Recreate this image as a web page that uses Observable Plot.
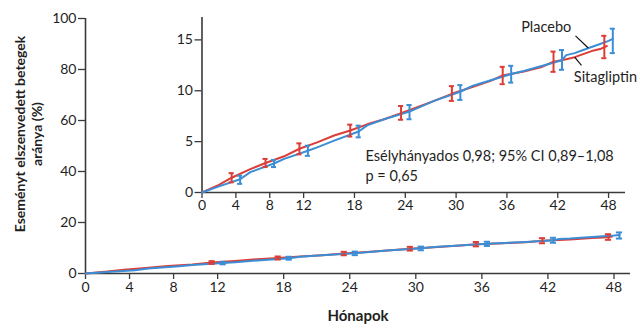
<!DOCTYPE html>
<html>
<head>
<meta charset="utf-8">
<script src="https://cdn.jsdelivr.net/npm/d3@7"></script>
<script src="https://cdn.jsdelivr.net/npm/@observablehq/plot@0.6"></script>
<style>
  html, body { margin: 0; padding: 0; background: white; }
  #wrap { position: relative; width: 640px; height: 329px; }
  #wrap svg { position: absolute; left: 0; top: 0; }
</style>
</head>
<body>
<div id="wrap"></div>
<script>
// ---- Data (cumulative incidence, %) ----
const sitaMonths = [0, 2, 3.5, 5.7, 7.5, 9.7, 11.5, 13.6, 15.6, 17.5, 19.5, 21.5, 23.5, 25.5, 27.4, 29.5, 32, 34, 35.5, 38, 40, 41.5, 43, 44, 45, 46, 47, 47.8];
const sitaValues = [0, 0.75, 1.45, 2.3, 2.9, 3.56, 4.3, 4.93, 5.6, 6.1, 6.7, 7.2, 7.8, 8.4, 9.0, 9.7, 10.4, 10.95, 11.5, 11.9, 12.3, 12.85, 13.1, 13.3, 13.6, 13.9, 14.1, 14.4];

const placMonths = [0, 2, 4.5, 5.7, 8.5, 9.7, 12.5, 13.6, 15.6, 18.5, 19.5, 21.5, 24.5, 27.4, 30.5, 32, 34, 36.5, 38, 40, 42.5, 43, 44, 45, 46, 47, 48, 48.5];
const placValues = [0, 0.6, 1.3, 2.0, 2.85, 3.3, 4.1, 4.44, 5.1, 6.0, 6.6, 7.2, 7.95, 9.0, 9.9, 10.5, 11.0, 11.65, 11.95, 12.4, 13.0, 13.5, 13.7, 14.0, 14.3, 14.6, 14.9, 15.1];

// Error bars (95% CI)
const sitaBarMonths = [3.5, 7.5, 11.5, 17.5, 23.5, 29.5, 35.5, 41.5, 47.5];
const sitaBarLow    = [1.0, 2.5, 3.75, 5.5, 7.15, 9.0, 10.65, 11.86, 13.2];
const sitaBarHigh   = [1.9, 3.3, 4.83, 6.67, 8.5, 10.45, 12.35, 13.85, 15.4];

const placBarMonths = [4.5, 8.5, 12.5, 18.5, 24.5, 30.5, 36.5, 42.5, 48.5];
const placBarLow    = [0.85, 2.5, 3.6, 5.42, 7.2, 9.1, 10.8, 12.06, 13.7];
const placBarHigh   = [1.65, 3.2, 4.6, 6.57, 8.6, 10.55, 12.45, 14.0, 16.1];

// Ticks
const mainXTicks = [0, 4, 8, 12, 18, 24, 30, 36, 42, 48];
const mainYTicks = [0, 20, 40, 60, 80, 100];
const insetXTicks = [0, 4, 8, 12, 18, 24, 30, 36, 42, 48];
const insetYTicks = [0, 5, 10, 15];

// Texts
const yLabel1 = "Eseményt elszenvedett betegek";
const yLabel2 = "aránya (%)";
const xLabel = "Hónapok";
const statLine1 = "Esélyhányados 0,98; 95% CI 0,89–1,08";
const statLine2 = "p = 0,65";
const labelPlacebo = "Placebo";
const labelSita = "Sitagliptin";

// ---- Build tables ----
const RED = "#dc3d36", BLUE = "#3b8ed6", AX = "#3a3a3a", TXT = "#1f1f1f";
const sita = sitaMonths.map((m, i) => ({m, v: sitaValues[i]}));
const plac = placMonths.map((m, i) => ({m, v: placValues[i]}));
const sitaBars = sitaBarMonths.map((m, i) => ({m, lo: sitaBarLow[i], hi: sitaBarHigh[i]}));
const placBars = placBarMonths.map((m, i) => ({m, lo: placBarLow[i], hi: placBarHigh[i]}));

function barMarks(bars, color, capHalf) {
  return [
    Plot.ruleX(bars, {x: "m", y1: "lo", y2: "hi", stroke: color, strokeWidth: 2}),
    Plot.ruleY(bars, {y: "lo", x1: d => d.m - capHalf, x2: d => d.m + capHalf, stroke: color, strokeWidth: 2}),
    Plot.ruleY(bars, {y: "hi", x1: d => d.m - capHalf, x2: d => d.m + capHalf, stroke: color, strokeWidth: 2})
  ];
}

const font = "Lato, 'Open Sans', sans-serif";

// ---- Main chart ----
const mainBarsS = sitaBars.filter(d => d.m > 10);
const mainBarsP = placBars.filter(d => d.m > 10);
const main = Plot.plot({
  width: 640, height: 329,
  marginLeft: 85, marginRight: 10, marginTop: 18, marginBottom: 56,
  style: {fontFamily: font, fontSize: "14px", color: TXT, background: "white"},
  x: {domain: [0, 49.5]},
  y: {domain: [0, 100]},
  marks: [
    Plot.axisX({ticks: mainXTicks, tickSize: 6, tickPadding: 3, label: null, stroke: AX, strokeWidth: 1.3}),
    Plot.axisY({ticks: mainYTicks, tickSize: 7, tickPadding: 2, label: null, stroke: AX, strokeWidth: 1.3}),
    Plot.ruleX([0], {stroke: AX, strokeWidth: 1.6}),
    Plot.ruleY([0], {stroke: AX, strokeWidth: 1.6}),
    Plot.line(sita, {x: "m", y: "v", stroke: RED, strokeWidth: 2}),
    Plot.line(plac, {x: "m", y: "v", stroke: BLUE, strokeWidth: 2}),
    ...barMarks(mainBarsS, RED, 0.28),
    ...barMarks(mainBarsP, BLUE, 0.28),
    Plot.text([yLabel1], {text: d => d, frameAnchor: "left", textAnchor: "middle", rotate: -90, dx: -65, dy: -12, fontWeight: "bold", fontSize: 14, fill: TXT}),
    Plot.text([yLabel2], {text: d => d, frameAnchor: "left", textAnchor: "middle", rotate: -90, dx: -48, dy: -12, fontWeight: "bold", fontSize: 14, fill: TXT}),
    Plot.text([xLabel], {text: d => d, frameAnchor: "bottom", textAnchor: "middle", dy: 47, fontWeight: "bold", fontSize: 15, fill: TXT})
  ]
});

// ---- Inset chart ----
const inset = Plot.plot({
  width: 640, height: 329,
  marginLeft: 201.5, marginRight: 15, marginTop: 17, marginBottom: 137,
  style: {fontFamily: font, fontSize: "14px", color: TXT, background: "transparent"},
  x: {domain: [0, 50]},
  y: {domain: [0, 17.2]},
  marks: [
    Plot.axisX({ticks: insetXTicks, tickSize: 6, tickPadding: 2, label: null, stroke: AX, strokeWidth: 1.3}),
    Plot.axisY({ticks: insetYTicks, tickSize: 7, tickPadding: 2, label: null, stroke: AX, strokeWidth: 1.3}),
    Plot.ruleX([0], {stroke: AX, strokeWidth: 1.6}),
    Plot.ruleY([0], {stroke: AX, strokeWidth: 1.6}),
    Plot.line(sita, {x: "m", y: "v", stroke: RED, strokeWidth: 2}),
    Plot.line(plac, {x: "m", y: "v", stroke: BLUE, strokeWidth: 2}),
    ...barMarks(sitaBars, RED, 0.3),
    ...barMarks(placBars, BLUE, 0.3),
    Plot.text([statLine1], {text: d => d, x: 19.3, y: 3.54, textAnchor: "start", fontSize: 14.5, fill: TXT}),
    Plot.text([statLine2], {text: d => d, x: 19.3, y: 1.57, textAnchor: "start", fontSize: 14.5, fill: TXT}),
    Plot.text([labelPlacebo], {text: d => d, x: 43.6, y: 16.2, textAnchor: "end", fontSize: 14.5, fill: TXT}),
    Plot.text([labelSita], {text: d => d, x: 43.9, y: 11.3, textAnchor: "start", fontSize: 14.5, fill: TXT}),
    Plot.link([{a: 44.1, b: 15.4, c: 45.6, d: 14.2}], {x1: "a", y1: "b", x2: "c", y2: "d", stroke: "#111", strokeWidth: 1.2}),
    Plot.link([{a: 44.0, b: 13.3, c: 44.8, d: 12.5}], {x1: "a", y1: "b", x2: "c", y2: "d", stroke: "#111", strokeWidth: 1.2})
  ]
});

const wrap = document.getElementById("wrap");
wrap.appendChild(main);
wrap.appendChild(inset);
</script>
</body>
</html>
